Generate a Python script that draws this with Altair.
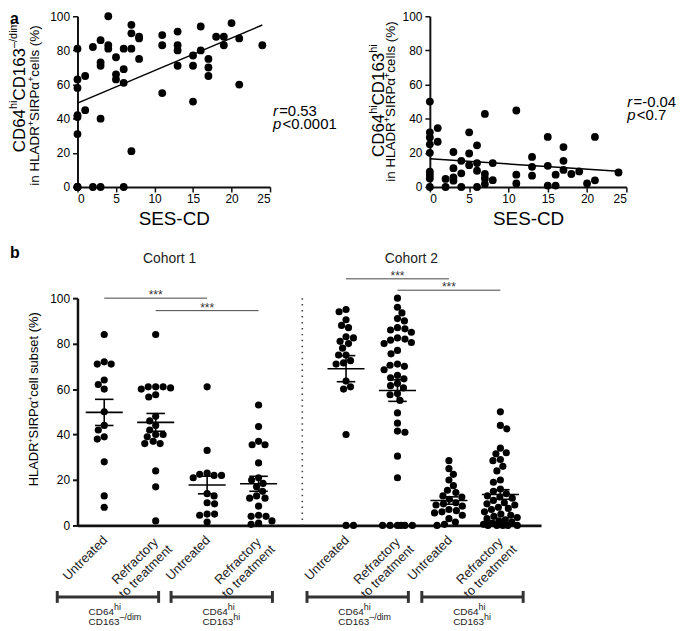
import altair as alt
import pandas as pd
import numpy as np

FONT = "Liberation Sans"

# ---------------- panel a data (overlapping points at the origin kept) ----------------
ses_a = [4, 0, 0, 0, 0, 0, 0, 0, 0, 0, 2, 3, 3, 3, 3, 2, 3, 1, 1, 4, 4, 5, 5, 5, 6, 6, 6, 6,
         7, 7, 7, 7, 8, 8, 8, 11, 11, 11, 13, 13, 13, 13, 15, 15, 15, 16, 16, 17, 17, 17,
         18, 19, 19, 20, 21, 21, 24]
dim_a = [100, 81, 63, 58, 42, 41, 31, 0, 0, 0, 82, 86, 73, 71, 40, 0, 0, 65, 45, 83, 81, 76, 66, 63,
         81, 69, 61, 0, 95, 90, 81, 21, 88, 87, 75, 89, 83, 55, 91, 83, 80, 71, 77, 71, 50,
         94, 80, 75, 70, 65, 88, 88, 83, 96, 87, 60, 83]

ses_b = [0, 0, 0, 0, 0, 0, 0, 0, 0, 1, 1, 2, 2, 3, 3, 3, 3, 4, 4, 4, 5, 5, 5, 6, 6, 6, 6,
         7, 7, 7, 7, 8, 8, 11, 11, 11, 13, 13, 13, 15, 15, 15, 16, 16, 17, 17, 17, 18, 19,
         20, 21, 21, 24]
hi_b = [50, 32, 29, 25, 20, 9, 7, 5, 0, 34.5, 26.5, 4.7, 0, 20.5, 11, 5.6, 3.7, 15.3, 8, 0,
        32, 19.6, 12.8, 24.4, 14, 9.5, 0, 42.8, 7.6, 5, 1.7, 14, 4, 44.8, 7.2, 2.1, 17.6, 11.8,
        6.6, 29.3, 12.4, 0.8, 7.2, 0.8, 23.4, 15.3, 10, 7.6, 9.1, 2.1, 29.3, 3.9, 8.5]

# ---------------- panel b data ----------------
cohorts = ["Cohort 1", "Cohort 2"]
subset_sup = ["–/dim", "hi"]
groups = ["Untreated", "Refractory\nto treatment"]

c1_dim_u = [84, 72, 71, 71, 64, 62, 60, 50, 44, 42, 39, 38, 28, 13, 8]
c1_dim_r = [84, 61, 61, 61, 60.5, 60, 57.5, 56.5, 48, 46, 44, 42, 40, 40, 39, 37, 36, 36, 24, 17, 2]
c1_hi_u = [61, 33, 23, 22.5, 22, 22, 21, 14, 13, 10, 9.5, 5, 5, 4.5, 1.5]
c1_hi_r = [53, 43.5, 37, 35.5, 35.5, 27.5, 21, 20, 18.5, 17, 15, 13, 12, 12, 8.5, 4.5, 4, 4, 2, 1, 0.5]
c2_dim_u = [95, 94, 90.5, 88, 87, 83, 82.5, 81, 80, 78, 75, 75, 72.5, 71.5, 71, 63.5, 61, 60, 40, 0, 0]
c2_dim_r = [100, 96, 93.5, 91, 90, 87, 86.5, 86, 85, 82.5, 82, 81.5, 80.5, 80, 77, 75.5, 71, 70.5,
            70, 68.5, 66, 65, 64.5, 62.5, 61.5, 60.5, 58, 57.5, 55, 49.5, 45, 41.5, 41, 30.5, 21,
            0, 0, 0, 0, 0, 0]
c2_hi_u = [28.5, 25, 22.5, 20, 17.5, 15.5, 14.5, 13, 12.5, 11.5, 10, 9.5, 9, 8.5, 7, 6.5, 6, 5.5,
           4.5, 3, 1.5, 0.5, 0]
c2_hi_r = [50, 44, 42.5, 34, 32, 31.5, 29, 28.5, 26, 24, 20, 19, 16, 15, 14, 13, 12.5, 12, 11, 10,
           9.5, 9, 8, 7.5, 7, 6, 5, 4.5, 4, 3.5, 3, 2.5, 2, 1.5, 1, 0.5, 0, 0, 0, 0, 0]

series_b = [[c1_dim_u, c1_dim_r, c1_hi_u, c1_hi_r], [c2_dim_u, c2_dim_r, c2_hi_u, c2_hi_r]]
sig_heights = [[100, 94.5], [108.5, 103.5]]

# ---------------- layout constants ----------------
W_A1, W_A2, H_A = 194, 198, 172
W_B, H_B = 467, 229
X_LO, X_HI = 0.48, 9.49
PPU_X = W_B / (X_HI - X_LO)
PPU_Y = H_B / 100.0
COHORT_SHIFT = 4.7
BRACKET_SHIFT_PX = [[-10, 1], [-2, 10]]

# Arial / Liberation Sans advance widths (1/1000 em)
ADV = {' ': 278, '(': 333, ')': 333, '%': 889, '+': 584, '-': 333, '–': 556, '.': 278, '/': 278,
       '<': 584, '=': 584, 'A': 667, 'C': 722, 'D': 722, 'H': 722, 'I': 278, 'L': 556, 'P': 667,
       'R': 722, 'S': 667, 'a': 556, 'b': 556, 'c': 500, 'd': 556, 'e': 556, 'h': 556, 'i': 222,
       'l': 222, 'm': 833, 'n': 556, 'o': 556, 'p': 556, 'r': 333, 's': 500, 't': 278, 'u': 556,
       'α': 578}


def tw(s, size):
    return sum(ADV.get(ch, 556) for ch in s) * size / 1000.0


def swarm(vals, d=7.2, maxoff=17.0):
    vals = np.asarray(vals, dtype=float)
    order = np.argsort(-vals, kind="stable")
    placed = []
    offs = np.zeros(len(vals))
    cands = [0.0]
    for k in range(1, int(maxoff * 2) + 1):
        cands += [k * 0.5, -k * 0.5]
    for n, i in enumerate(order):
        y = vals[i] * PPU_Y
        best, bestd = 0.0, -1.0
        cc = cands if n % 2 == 0 else [-c for c in cands]
        for c in cc:
            md = min([np.hypot(c - px, y - py) for px, py in placed] or [1e9])
            if md >= d:
                best = c
                break
            if md > bestd:
                best, bestd = c, md
        offs[i] = best
        placed.append((best, y))
    return offs / PPU_X


rows = []
for ci, cser in enumerate(series_b):
    for k, vals in enumerate(cser):
        pos = 1 + k + ci * COHORT_SHIFT
        offs = swarm(vals)
        for v, o in zip(vals, offs):
            rows.append({"pos": pos, "xj": pos + o, "val": v})
df_b = pd.DataFrame(rows)

lab_rows, br_rows, sig_rows, coh_rows = [], [], [], []
for ci in range(2):
    base_p = 1 + ci * COHORT_SHIFT
    coh_rows.append({"cx": base_p + 1.5 - 0.23, "t": cohorts[ci]})
    for si in range(2):
        p_u = base_p + 2 * si
        p_r = p_u + 1
        lab_rows.append({"lx": p_u - 0.37, "t": groups[0], "kind": "u"})
        lab_rows.append({"lx": p_r - 0.40, "t": groups[1], "kind": "r"})
        sh = BRACKET_SHIFT_PX[ci][si] / PPU_X
        x1, x2 = p_u - 0.72 + sh, p_r + 0.25 + sh
        xc = (x1 + x2) / 2
        br_rows.append({"x1": x1, "x2": x2, "xl": xc - 19.5 / PPU_X,
                        "b1": "CD64", "s1": "hi", "b2": "CD163", "s2": subset_sup[si],
                        "a1": xc + (-19.5 + tw("CD64", 10)) / PPU_X,
                        "a2": xc + (-19.5 + tw("CD163", 10)) / PPU_X})
    for j in range(2):
        a = base_p + j
        b = a + 2
        sig_rows.append({"a": a, "b": b, "mid": (a + b) / 2, "h": sig_heights[ci][j], "t": "***"})
df_lab = pd.DataFrame(lab_rows)
df_br = pd.DataFrame(br_rows)
df_sig = pd.DataFrame(sig_rows)
df_coh = pd.DataFrame(coh_rows)
df_div = pd.DataFrame({"dx": [(4 + 1 + COHORT_SHIFT) / 2]})


def txt(s, x, y, size=12, **kw):
    return alt.Chart(pd.DataFrame({"t": [s]})).mark_text(
        fontSize=size, font=FONT, color="black", **kw
    ).encode(x=alt.value(x), y=alt.value(y), text="t:N")


def rich(pieces, cx, cy, vertical=False, center=True, gap=0.0):
    """pieces: (text, size, raise, style). Draw left-aligned pieces along a baseline."""
    total = sum(tw(p[0], p[1]) for p in pieces) + gap * (len(pieces) - 1)
    out = []
    pos = -total / 2 if center else 0.0
    for text, size, rz, style in pieces:
        if vertical:
            x, y = cx - rz, cy - pos
            out.append(txt(text, x, y, size, angle=270, align="left", baseline="alphabetic",
                           fontStyle=style))
        else:
            x, y = cx + pos, cy - rz
            out.append(txt(text, x, y, size, align="left", baseline="alphabetic", fontStyle=style))
        pos += tw(text, size) + gap
    return out


# ---------------- panel a ----------------
def scatter_panel(ses, vals, width, line1, line2, t1x, t1y, t2x, t2y, rtxt, ptxt, rx, ry, letter=None):
    df = pd.DataFrame({"ses": ses, "v": vals})
    xax = alt.Axis(values=[0, 5, 10, 15, 20, 25], title="SES-CD", titleFontSize=19,
                   titleFontWeight="normal", titlePadding=5, labelFontSize=12, tickSize=5,
                   tickWidth=1.5, domainWidth=2, labelPadding=2)
    yax = alt.Axis(values=[0, 20, 40, 60, 80, 100], title=None, labelFontSize=12, tickSize=5,
                   tickWidth=1.5, domainWidth=2, labelPadding=3)
    X = alt.X("ses:Q", scale=alt.Scale(domain=[0, 25], nice=False), axis=xax)
    Y = alt.Y("v:Q", scale=alt.Scale(domain=[0, 100], nice=False), axis=yax)
    base = alt.Chart(df)
    pts = base.mark_circle(size=62, color="black", opacity=1).encode(x=X, y=Y)
    reg = base.transform_regression("ses", "v").mark_line(color="black", strokeWidth=1.5).encode(x=X, y=Y)
    layers = [pts, reg]
    layers += rich(line1, t1x, t1y, vertical=True)
    layers += rich(line2, t2x, t2y, vertical=True)
    layers += rich([("r", 15, 0, "italic"), (rtxt, 15, 0, "normal")], rx, ry, center=False, gap=1.2)
    layers += rich([("p", 15, 0, "italic"), (ptxt, 15, 0, "normal")], rx, ry + 13.5, center=False, gap=1.2)
    if letter:
        layers.append(txt(letter, -68, 3, 16, fontWeight="bold", align="left", baseline="middle"))
    return alt.layer(*layers).properties(width=width, height=H_A)


line2 = [("in HLADR", 13.5, 0, "normal"), ("+", 9, 5, "normal"), ("SIRPα", 13.5, 0, "normal"),
         ("+", 9, 5, "normal"), (" cells (%)", 13.5, 0, "normal")]
tl = scatter_panel(ses_a, dim_a, W_A1,
                   [("CD64", 17, 0, "normal"), ("hi", 11, 7.5, "normal"), ("CD163", 17, 0, "normal"),
                    ("–/dim", 11, 7.5, "normal")], line2,
                   -53, 71, -38.5, 88, "=0.53", "<0.0001", 197, 100, letter="a")
tr = scatter_panel(ses_b, hi_b, W_A2,
                   [("CD64", 17, 0, "normal"), ("hi", 11, 7.5, "normal"), ("CD163", 17, 0, "normal"),
                    ("hi", 11, 7.5, "normal")], line2,
                   -46, 85, -35.5, 84, "=-0.04", "<0.7", 199, 91)

# ---------------- panel b ----------------
xs = alt.Scale(domain=[X_LO, X_HI], nice=False, zero=False)
ys = alt.Scale(domain=[0, 100], nice=False)
xax_b = alt.Axis(labels=False, ticks=False, title=None, domainWidth=2.8, grid=False)
yax_b = alt.Axis(values=[0, 20, 40, 60, 80, 100], title=None, labelFontSize=12, tickSize=5,
                 tickWidth=2, domainWidth=2.5, labelPadding=3)


def XB(f):
    return alt.X(f, type="quantitative", scale=xs, axis=xax_b)


def YB(f):
    return alt.Y(f, type="quantitative", scale=ys, axis=yax_b)


bb = alt.Chart(df_b)
pts_b = bb.mark_circle(size=52, color="black", opacity=1).encode(x=XB("xj"), y=YB("val"))
agg = bb.transform_aggregate(m="mean(val)", se="stderr(val)", groupby=["pos"]).transform_calculate(
    lo="datum.m - datum.se", hi="datum.m + datum.se",
    xm1="datum.pos - 0.36", xm2="datum.pos + 0.36",
    xc1="datum.pos - 0.18", xc2="datum.pos + 0.18")
rk = dict(color="black", strokeWidth=1.6)
mean_r = agg.mark_rule(**rk).encode(x=XB("xm1"), x2="xm2", y=YB("m"))
err_v = agg.mark_rule(**rk).encode(x=XB("pos"), y=YB("lo"), y2="hi")
cap_l = agg.mark_rule(**rk).encode(x=XB("xc1"), x2="xc2", y=YB("lo"))
cap_h = agg.mark_rule(**rk).encode(x=XB("xc1"), x2="xc2", y=YB("hi"))

div = alt.Chart(df_div).mark_rule(color="#444", strokeWidth=1.6, strokeDash=[1.5, 4.5]).encode(
    x=XB("dx"), y=alt.value(0), y2=alt.value(H_B))

sg = alt.Chart(df_sig)
sig_l = sg.mark_rule(color="#444", strokeWidth=1).encode(x=XB("a"), x2="b", y=YB("h"))
sig_t = sg.mark_text(font=FONT, fontSize=12, color="#333", baseline="bottom", dy=4).encode(
    x=XB("mid"), y=YB("h"), text="t:N")

coh = alt.Chart(df_coh).mark_text(font=FONT, fontSize=14, color="#222").encode(
    x=XB("cx"), y=alt.value(-39), text="t:N")

lab_u = alt.Chart(df_lab).transform_filter("datum.kind == 'u'").mark_text(
    font=FONT, fontSize=13, color="#222", angle=315, align="center", baseline="middle").encode(
    x=XB("lx"), y=alt.value(H_B + 33), text="t:N")
lab_r = alt.Chart(df_lab).transform_filter("datum.kind == 'r'").mark_text(
    font=FONT, fontSize=13, color="#222", angle=315, align="center", baseline="middle",
    lineBreak="\n", lineHeight=15).encode(
    x=XB("lx"), y=alt.value(H_B + 36), text="t:N")

br = alt.Chart(df_br)
bk = dict(color="#333", strokeWidth=3)
br_h = br.mark_rule(**bk).encode(x=XB("x1"), x2="x2", y=alt.value(H_B + 72))
br_c1 = br.mark_rule(**bk).encode(x=XB("x1"), y=alt.value(H_B + 66), y2=alt.value(H_B + 78))
br_c2 = br.mark_rule(**bk).encode(x=XB("x2"), y=alt.value(H_B + 66), y2=alt.value(H_B + 78))
tk = dict(font=FONT, color="#222", align="left", baseline="alphabetic")
br_b1 = br.mark_text(fontSize=10, **tk).encode(x=XB("xl"), y=alt.value(H_B + 90), text="b1:N")
br_s1 = br.mark_text(fontSize=9, **tk).encode(x=XB("a1"), y=alt.value(H_B + 85.5), text="s1:N")
br_b2 = br.mark_text(fontSize=10, **tk).encode(x=XB("xl"), y=alt.value(H_B + 100), text="b2:N")
br_s2 = br.mark_text(fontSize=9, **tk).encode(x=XB("a2"), y=alt.value(H_B + 95.5), text="s2:N")

ytitle_b = rich([("HLADR", 13, 0, "normal"), ("+", 7, 5, "normal"), ("SIRPα", 13, 0, "normal"),
                 ("+", 7, 5, "normal"), (" cell subset (%)", 13, 0, "normal")],
                -39.5, 100, vertical=True)

bottom = alt.layer(
    pts_b, mean_r, err_v, cap_l, cap_h, div, sig_l, sig_t, coh, lab_u, lab_r,
    br_h, br_c1, br_c2, br_b1, br_s1, br_b2, br_s2, *ytitle_b,
    txt("b", -68, -45, 16, fontWeight="bold", align="left", baseline="middle"),
).properties(width=W_B, height=H_B)

top = alt.hconcat(tl, tr, spacing=161, bounds="flush")
chart = alt.vconcat(top, bottom, spacing=H_A + 112, bounds="flush").properties(
    padding=0
).configure_view(stroke=None).configure_axis(
    grid=False, labelFont=FONT, titleFont=FONT, labelColor="black", titleColor="black",
    domainColor="#111", tickColor="#111"
)

chart.save("out.html", embed_options={"renderer": "svg", "actions": False})
